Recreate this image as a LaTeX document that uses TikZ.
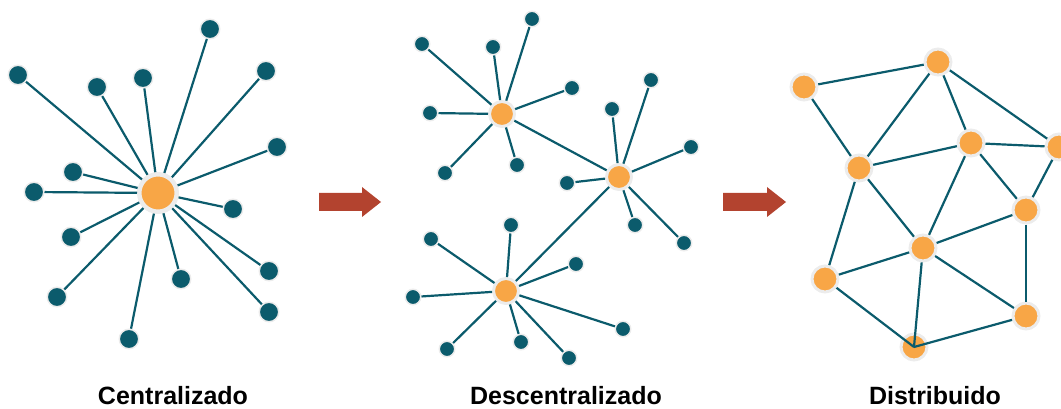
\documentclass[tikz,border=0pt]{standalone}
\usepackage{fontspec}
\usepackage{tikz}
\setmainfont{Liberation Sans}
\definecolor{netTeal}{HTML}{0B5B6C}
\definecolor{netOrange}{HTML}{F8A646}
\definecolor{haloGray}{HTML}{ECECEC}
\definecolor{arrowRed}{HTML}{B3432F}

\begin{document}
\begin{tikzpicture}[x=1pt, y=-1pt, semithick]
        \tikzset{
           hub/.style={
                        circle,
                        fill=netOrange,
                        draw=haloGray,
                        line width=4.5pt,
                        minimum size=37.5pt,
                        inner sep=0pt
                       },
           subHub/.style={
                        circle,
                        fill=netOrange,
                        draw=haloGray,
                        line width=3pt,
                        minimum size=25pt,
                        inner sep=0pt
                       },
           peer/.style={
                        circle,
                        fill=netOrange,
                        draw=haloGray,
                        line width=3pt,
                        minimum size=26pt,
                        inner sep=0pt
                       },
           leaf/.style={
                        circle,
                        fill=netTeal,
                        draw=haloGray,
                        line width=1.5pt,
                        minimum size=19.5pt,
                        inner sep=0pt
                       },
           smallLeaf/.style={
                        circle,
                        fill=netTeal,
                        draw=haloGray,
                        line width=1.5pt,
                        minimum size=15.5pt,
                        inner sep=0pt
                       },
           link/.style={
                        draw=netTeal,
                        line width=2.2pt
                       },
           caption/.style={
                        anchor=base,
                        inner sep=0pt,
                        font=\fontsize{25}{30}\selectfont\bfseries
                       },
           bigArrow/.style={
                        fill=arrowRed
                       },
                 };
        \useasboundingbox (0,0) rectangle (1061,409);
    %-------------------- centralizado
        \node[hub]       (centre)  at (158,193) {};
        \node[leaf]      (c1)      at (210,29)  {};
        \node[leaf]      (c2)      at (18,75)   {};
        \node[leaf]      (c3)      at (97,87)   {};
        \node[leaf]      (c4)      at (143,78)  {};
        \node[leaf]      (c5)      at (266,71)  {};
        \node[leaf]      (c6)      at (277,147) {};
        \node[leaf]      (c7)      at (73,172)  {};
        \node[leaf]      (c8)      at (34,192)  {};
        \node[leaf]      (c9)      at (233,209) {};
        \node[leaf]      (c10)     at (71,237)  {};
        \node[leaf]      (c11)     at (269,271) {};
        \node[leaf]      (c12)     at (181,279) {};
        \node[leaf]      (c13)     at (57,297)  {};
        \node[leaf]      (c14)     at (269,312) {};
        \node[leaf]      (c15)     at (129,339) {};
    %-------------------- descentralizado
        \node[subHub]    (hubA)    at (502,114) {};
        \node[subHub]    (hubB)    at (619,177) {};
        \node[subHub]    (hubC)    at (506,291) {};

        \node[smallLeaf] (a1)      at (422,44)  {};
        \node[smallLeaf] (a2)      at (493,47)  {};
        \node[smallLeaf] (a3)      at (532,19)  {};
        \node[smallLeaf] (a4)      at (572,88)  {};
        \node[smallLeaf] (a5)      at (430,113) {};
        \node[smallLeaf] (a6)      at (445,173) {};
        \node[smallLeaf] (a7)      at (517,165) {};

        \node[smallLeaf] (b1)      at (612,109) {};
        \node[smallLeaf] (b2)      at (651,80)  {};
        \node[smallLeaf] (b3)      at (691,147) {};
        \node[smallLeaf] (b4)      at (567,183) {};
        \node[smallLeaf] (b5)      at (635,225) {};
        \node[smallLeaf] (b6)      at (684,243) {};

        \node[smallLeaf] (k1)      at (431,239) {};
        \node[smallLeaf] (k2)      at (511,225) {};
        \node[smallLeaf] (k3)      at (576,264) {};
        \node[smallLeaf] (k4)      at (413,297) {};
        \node[smallLeaf] (k5)      at (623,329) {};
        \node[smallLeaf] (k6)      at (447,349) {};
        \node[smallLeaf] (k7)      at (521,342) {};
        \node[smallLeaf] (k8)      at (569,358) {};
    %-------------------- distribuido
        \node[peer]      (p1)      at (804,87)  {};
        \node[peer]      (p2)      at (938,62)  {};
        \node[peer]      (p3)      at (859,168) {};
        \node[peer]      (p4)      at (971,143) {};
        \node[peer]      (p5)      at (1059,147) {};
        \node[peer]      (p6)      at (1026,210) {};
        \node[peer]      (p7)      at (923,248) {};
        \node[peer]      (p8)      at (825,279) {};
        \node[peer]      (p9)      at (1026,316) {};
        \node[peer]      (p10)     at (914,347) {};
    %-------------------- captions
        \node[caption]   (capCentral)  at (173,404) {Centralizado};
        \node[caption]   (capDecentral) at (566,404) {Descentralizado};
        \node[caption]   (capDistrib)  at (935,404) {Distribuido};
    %-------------------- arrows
        \fill[bigArrow] (319,193) -- (362,193) -- (362,187) -- (381,202)
                        -- (362,217) -- (362,211) -- (319,211) -- cycle;
        \fill[bigArrow] (723,193) -- (767,193) -- (767,187) -- (786,202)
                        -- (767,217) -- (767,211) -- (723,211) -- cycle;
    %--------------------
        \path[link] (centre) edge (c1)
                    (centre) edge (c2)
                    (centre) edge (c3)
                    (centre) edge (c4)
                    (centre) edge (c5)
                    (centre) edge (c6)
                    (centre) edge (c7)
                    (centre) edge (c8)
                    (centre) edge (c9)
                    (centre) edge (c10)
                    (centre) edge (c11)
                    (centre) edge (c12)
                    (centre) edge (c13)
                    (centre) edge (c14)
                    (centre) edge (c15);

        \path[link] (hubA) edge (hubB)
                    (hubB) edge (hubC)

                    (hubA) edge (a1)
                    (hubA) edge (a2)
                    (hubA) edge (a3)
                    (hubA) edge (a4)
                    (hubA) edge (a5)
                    (hubA) edge (a6)
                    (hubA) edge (a7)

                    (hubB) edge (b1)
                    (hubB) edge (b2)
                    (hubB) edge (b3)
                    (hubB) edge (b4)
                    (hubB) edge (b5)
                    (hubB) edge (b6)

                    (hubC) edge (k1)
                    (hubC) edge (k2)
                    (hubC) edge (k3)
                    (hubC) edge (k4)
                    (hubC) edge (k5)
                    (hubC) edge (k6)
                    (hubC) edge (k7)
                    (hubC) edge (k8);

        \path[link] (p1) edge (p2)
                    (p1) edge (p3)
                    (p2) edge (p3)
                    (p2) edge (p4)
                    (p2) edge (p5)
                    (p3) edge (p4)
                    (p4) edge (p5)
                    (p4) edge (p6)
                    (p5) edge (p6)
                    (p3) edge (p7)
                    (p4) edge (p7)
                    (p3) edge (p8)
                    (p7) edge (p6)
                    (p8) edge (p7)
                    (p6) edge (p9)
                    (p7) edge (p9)
                    (p8) edge (p10.center)
                    (p7) edge (p10.center)
                    (p9) edge (p10.center);
    \end{tikzpicture}
\end{document}
